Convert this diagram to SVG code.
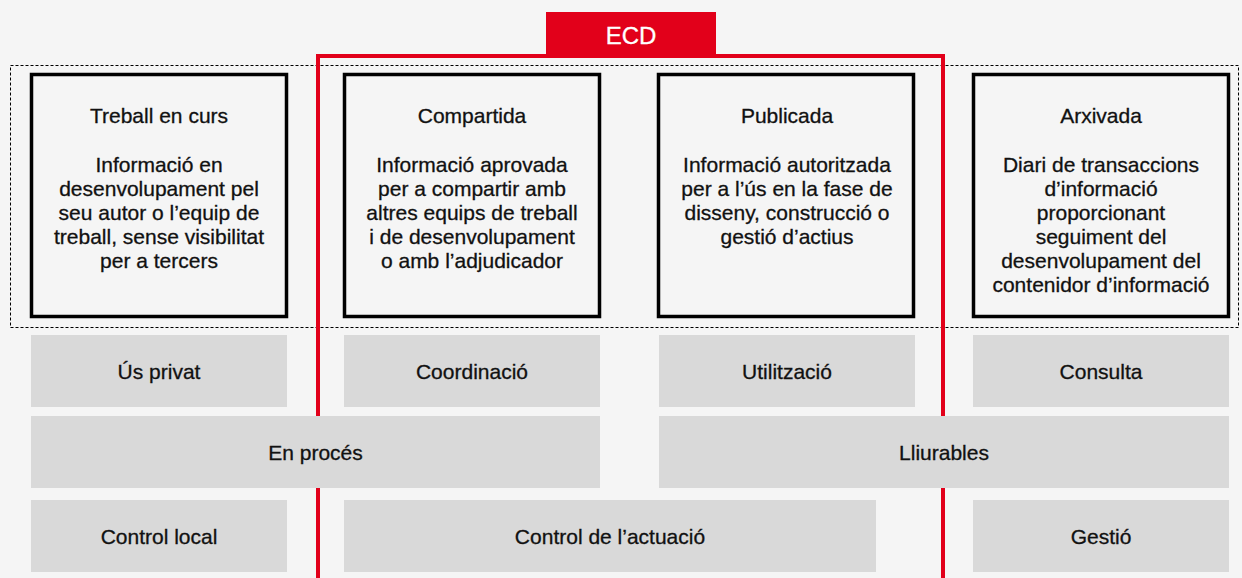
<svg xmlns="http://www.w3.org/2000/svg" width="1242" height="578" viewBox="0 0 1242 578">
<style>
text{font-family:"Liberation Sans",Arial,sans-serif;font-size:21px;fill:#111;stroke:#111;stroke-width:0.3;text-anchor:middle}
.box{fill:#f5f5f5;stroke:#000;stroke-width:3.5}
.g{fill:#d9d9d9}
.red{stroke:#e2001a;stroke-width:4;fill:none}
</style>
<rect x="0" y="0" width="1242" height="578" fill="#f5f5f5"/>
<rect x="10.5" y="65.5" width="1228" height="262" fill="none" stroke="#000" stroke-width="1" stroke-dasharray="3,2"/>
<g id="ecd">
<path class="red" d="M318,578V56H943V578"/>
<rect x="546" y="12" width="170" height="44" fill="#e2001a"/>
<text x="631" y="44" style="fill:#fff;stroke:#fff;font-size:24px">ECD</text>
</g>
<g id="n1"><rect class="box" x="31.5" y="74.5" width="255" height="242"/>
<text x="159" y="123">Treball en curs</text>
<text x="159" y="172">Informació en</text><text x="159" y="196">desenvolupament pel</text><text x="159" y="220">seu autor o l’equip de</text><text x="159" y="244">treball, sense visibilitat</text><text x="159" y="268">per a tercers</text></g>
<g id="n2"><rect class="box" x="344.5" y="74.5" width="255" height="242"/>
<text x="472" y="123">Compartida</text>
<text x="472" y="172">Informació aprovada</text><text x="472" y="196">per a compartir amb</text><text x="472" y="220">altres equips de treball</text><text x="472" y="244">i de desenvolupament</text><text x="472" y="268">o amb l’adjudicador</text></g>
<g id="n3"><rect class="box" x="658.5" y="74.5" width="255" height="242"/>
<text x="787" y="123">Publicada</text>
<text x="787" y="172">Informació autoritzada</text><text x="787" y="196">per a l’ús en la fase de</text><text x="787" y="220">disseny, construcció o</text><text x="787" y="244">gestió d’actius</text></g>
<g id="n4"><rect class="box" x="973.5" y="74.5" width="255" height="242"/>
<text x="1101" y="123">Arxivada</text>
<text x="1101" y="172">Diari de transaccions</text><text x="1101" y="196">d’informació</text><text x="1101" y="220">proporcionant</text><text x="1101" y="244">seguiment del</text><text x="1101" y="268">desenvolupament del</text><text x="1101" y="292">contenidor d’informació</text></g>
<g id="r1a"><rect class="g" x="31" y="335" width="256" height="72"/><text x="159" y="379">Ús privat</text></g>
<g id="r1b"><rect class="g" x="344" y="335" width="256" height="72"/><text x="472" y="379">Coordinació</text></g>
<g id="r1c"><rect class="g" x="659" y="335" width="256" height="72"/><text x="787" y="379">Utilització</text></g>
<g id="r1d"><rect class="g" x="973" y="335" width="256" height="72"/><text x="1101" y="379">Consulta</text></g>
<g id="r2a"><rect class="g" x="31" y="416" width="569" height="72"/><text x="315.5" y="460">En procés</text></g>
<g id="r2b"><rect class="g" x="659" y="416" width="570" height="72"/><text x="944" y="460">Lliurables</text></g>
<g id="r3a"><rect class="g" x="31" y="500" width="256" height="72"/><text x="159" y="544">Control local</text></g>
<g id="r3b"><rect class="g" x="344" y="500" width="532" height="72"/><text x="610" y="544">Control de l’actuació</text></g>
<g id="r3c"><rect class="g" x="973" y="500" width="256" height="72"/><text x="1101" y="544">Gestió</text></g>
<g id="connectors"></g>
</svg>
